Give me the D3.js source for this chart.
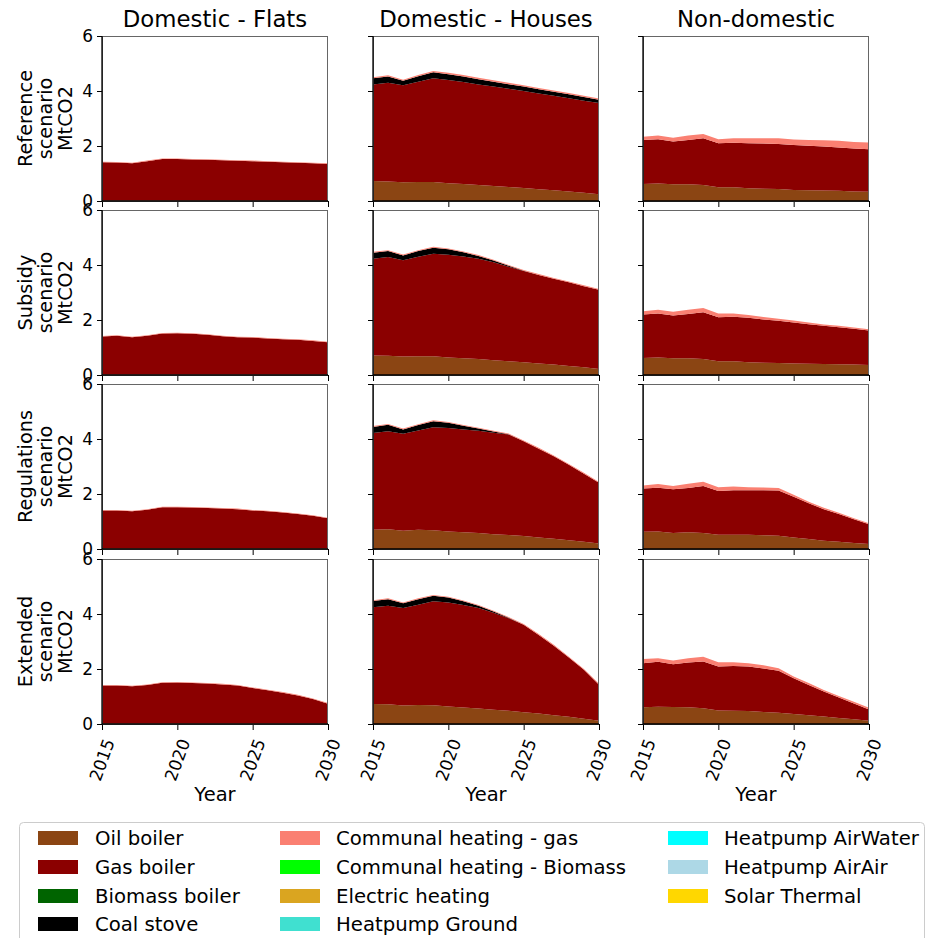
<!DOCTYPE html>
<html><head><meta charset="utf-8">
<script src="https://cdn.jsdelivr.net/npm/d3@7"></script>
<style>body{margin:0;background:#fff} text{font-family:"DejaVu Sans",sans-serif;fill:#000}</style>
</head><body><svg id="c" width="930" height="938"></svg>
<script>
// ---------------- DATA ----------------
const years = [2015,2016,2017,2018,2019,2020,2021,2022,2023,2024,2025,2026,2027,2028,2029,2030];
const sectors = ["Domestic - Flats","Domestic - Houses","Non-domestic"];
const scenarios = ["Reference","Subsidy","Regulations","Extended"];
const technologies = ["Oil boiler","Gas boiler","Biomass boiler","Coal stove","Communal heating - gas","Communal heating - Biomass","Electric heating","Heatpump Ground","Heatpump AirWater","Heatpump AirAir","Solar Thermal"];
const techColors = ["#8B4513","#8B0000","#006400","#000000","#FA8072","#00FF00","#DAA520","#40E0D0","#00FFFF","#ADD8E6","#FFD700"];
const yTicks = [0,2,4,6];
const xTicks = [2015,2020,2025,2030];

// Domestic - Flats
const flatsRefOil  = [0.02,0.02,0.02,0.02,0.02,0.02,0.02,0.02,0.02,0.02,0.02,0.02,0.02,0.02,0.02,0.02];
const flatsRefGas  = [1.39,1.38,1.35,1.43,1.51,1.51,1.49,1.48,1.46,1.44,1.43,1.41,1.39,1.37,1.35,1.33];
const flatsRefComm = [0.02,0.02,0.02,0.02,0.02,0.02,0.02,0.02,0.02,0.02,0.02,0.02,0.02,0.02,0.02,0.02];
const flatsSubOil  = [0.02,0.02,0.02,0.02,0.02,0.02,0.02,0.02,0.02,0.02,0.02,0.02,0.02,0.02,0.02,0.02];
const flatsSubGas  = [1.38,1.41,1.35,1.41,1.49,1.50,1.48,1.44,1.39,1.35,1.34,1.31,1.28,1.26,1.22,1.17];
const flatsSubComm = [0.02,0.02,0.02,0.02,0.02,0.02,0.02,0.02,0.02,0.02,0.02,0.02,0.02,0.02,0.02,0.02];
const flatsRegOil  = [0.02,0.02,0.02,0.02,0.02,0.02,0.02,0.02,0.02,0.02,0.02,0.02,0.02,0.02,0.02,0.02];
const flatsRegGas  = [1.38,1.38,1.35,1.41,1.50,1.50,1.49,1.47,1.45,1.43,1.38,1.35,1.31,1.25,1.19,1.10];
const flatsRegComm = [0.02,0.02,0.02,0.02,0.02,0.02,0.02,0.02,0.02,0.02,0.02,0.02,0.02,0.02,0.02,0.02];
const flatsExtOil  = [0.02,0.02,0.02,0.02,0.02,0.02,0.02,0.02,0.02,0.02,0.02,0.02,0.02,0.02,0.02,0.02];
const flatsExtGas  = [1.38,1.38,1.35,1.40,1.48,1.49,1.47,1.45,1.42,1.38,1.29,1.21,1.12,1.02,0.89,0.72];
const flatsExtComm = [0.02,0.02,0.02,0.02,0.02,0.02,0.02,0.02,0.02,0.02,0.02,0.02,0.02,0.02,0.02,0.02];

// Domestic - Houses
const housesRefOil  = [0.73,0.71,0.68,0.69,0.69,0.65,0.62,0.58,0.55,0.51,0.47,0.43,0.39,0.35,0.30,0.25];
const housesRefGas  = [3.51,3.59,3.53,3.65,3.77,3.75,3.71,3.66,3.61,3.57,3.53,3.48,3.44,3.39,3.35,3.31];
const housesRefCoal = [0.22,0.23,0.16,0.20,0.22,0.21,0.20,0.19,0.18,0.17,0.16,0.15,0.14,0.14,0.13,0.12];
const housesRefComm = [0.04,0.04,0.04,0.04,0.05,0.05,0.05,0.05,0.05,0.05,0.05,0.05,0.05,0.05,0.05,0.05];
const housesSubOil  = [0.71,0.70,0.67,0.68,0.68,0.64,0.61,0.58,0.54,0.50,0.46,0.42,0.38,0.33,0.28,0.22];
const housesSubGas  = [3.52,3.59,3.50,3.62,3.73,3.73,3.70,3.65,3.56,3.44,3.32,3.22,3.12,3.04,2.95,2.88];
const housesSubCoal = [0.22,0.22,0.18,0.21,0.22,0.20,0.15,0.10,0.06,0.03,0.01,0,0,0,0,0];
const housesSubComm = [0.03,0.03,0.03,0.03,0.03,0.03,0.03,0.03,0.03,0.03,0.03,0.03,0.03,0.03,0.03,0.03];
const housesRegOil  = [0.70,0.72,0.66,0.70,0.68,0.64,0.61,0.58,0.54,0.51,0.47,0.42,0.37,0.32,0.26,0.20];
const housesRegGas  = [3.52,3.56,3.53,3.61,3.75,3.76,3.74,3.72,3.69,3.65,3.45,3.23,3.00,2.74,2.48,2.21];
const housesRegCoal = [0.22,0.24,0.16,0.20,0.22,0.19,0.13,0.08,0.04,0.01,0,0,0,0,0,0];
const housesRegComm = [0.03,0.03,0.03,0.03,0.03,0.03,0.03,0.03,0.03,0.03,0.03,0.03,0.03,0.03,0.03,0.03];
const housesExtOil  = [0.73,0.72,0.67,0.69,0.68,0.64,0.60,0.56,0.52,0.48,0.43,0.38,0.32,0.26,0.19,0.12];
const housesExtGas  = [3.52,3.58,3.55,3.65,3.78,3.78,3.73,3.66,3.53,3.37,3.18,2.86,2.53,2.16,1.78,1.31];
const housesExtCoal = [0.22,0.24,0.17,0.20,0.20,0.18,0.13,0.08,0.04,0.01,0,0,0,0,0,0];
const housesExtComm = [0.03,0.03,0.03,0.03,0.03,0.03,0.03,0.03,0.03,0.03,0.03,0.03,0.03,0.03,0.03,0.03];

// Non-domestic
const nondomRefOil  = [0.62,0.64,0.61,0.61,0.58,0.50,0.50,0.46,0.45,0.44,0.40,0.39,0.38,0.37,0.35,0.34];
const nondomRefGas  = [1.60,1.61,1.55,1.61,1.70,1.60,1.62,1.64,1.64,1.63,1.64,1.62,1.60,1.58,1.56,1.54];
const nondomRefComm = [0.12,0.13,0.14,0.16,0.16,0.15,0.16,0.18,0.19,0.21,0.20,0.21,0.23,0.24,0.24,0.25];
const nondomSubOil  = [0.62,0.64,0.61,0.61,0.58,0.50,0.50,0.46,0.45,0.44,0.42,0.41,0.40,0.39,0.38,0.36];
const nondomSubGas  = [1.58,1.60,1.55,1.61,1.70,1.60,1.62,1.62,1.57,1.53,1.49,1.44,1.39,1.35,1.30,1.26];
const nondomSubComm = [0.12,0.13,0.14,0.15,0.16,0.14,0.12,0.10,0.09,0.08,0.07,0.06,0.05,0.05,0.05,0.04];
const nondomRegOil  = [0.63,0.64,0.58,0.61,0.58,0.52,0.52,0.52,0.50,0.48,0.42,0.36,0.30,0.26,0.22,0.18];
const nondomRegGas  = [1.57,1.59,1.59,1.61,1.71,1.59,1.62,1.62,1.64,1.65,1.48,1.30,1.15,1.01,0.86,0.72];
const nondomRegComm = [0.11,0.13,0.12,0.15,0.16,0.14,0.13,0.11,0.10,0.09,0.07,0.06,0.05,0.05,0.04,0.04];
const nondomExtOil  = [0.61,0.63,0.62,0.61,0.57,0.49,0.48,0.47,0.44,0.41,0.36,0.32,0.27,0.22,0.17,0.12];
const nondomExtGas  = [1.60,1.63,1.55,1.63,1.70,1.60,1.63,1.62,1.58,1.53,1.30,1.10,0.91,0.74,0.58,0.41];
const nondomExtComm = [0.15,0.13,0.14,0.15,0.18,0.16,0.14,0.12,0.12,0.09,0.07,0.07,0.06,0.06,0.06,0.06];

// panel lookup (sector index x scenario index) -> series present (others are zero)
const panelSeries = [
  [ {"Oil boiler":flatsRefOil,"Gas boiler":flatsRefGas,"Communal heating - gas":flatsRefComm},
    {"Oil boiler":flatsSubOil,"Gas boiler":flatsSubGas,"Communal heating - gas":flatsSubComm},
    {"Oil boiler":flatsRegOil,"Gas boiler":flatsRegGas,"Communal heating - gas":flatsRegComm},
    {"Oil boiler":flatsExtOil,"Gas boiler":flatsExtGas,"Communal heating - gas":flatsExtComm} ],
  [ {"Oil boiler":housesRefOil,"Gas boiler":housesRefGas,"Coal stove":housesRefCoal,"Communal heating - gas":housesRefComm},
    {"Oil boiler":housesSubOil,"Gas boiler":housesSubGas,"Coal stove":housesSubCoal,"Communal heating - gas":housesSubComm},
    {"Oil boiler":housesRegOil,"Gas boiler":housesRegGas,"Coal stove":housesRegCoal,"Communal heating - gas":housesRegComm},
    {"Oil boiler":housesExtOil,"Gas boiler":housesExtGas,"Coal stove":housesExtCoal,"Communal heating - gas":housesExtComm} ],
  [ {"Oil boiler":nondomRefOil,"Gas boiler":nondomRefGas,"Communal heating - gas":nondomRefComm},
    {"Oil boiler":nondomSubOil,"Gas boiler":nondomSubGas,"Communal heating - gas":nondomSubComm},
    {"Oil boiler":nondomRegOil,"Gas boiler":nondomRegGas,"Communal heating - gas":nondomRegComm},
    {"Oil boiler":nondomExtOil,"Gas boiler":nondomExtGas,"Communal heating - gas":nondomExtComm} ]
];

// ---------------- LAYOUT ----------------
const svg = d3.select("#c");
const colX = [102, 373, 643];
const rowY = [36, 210, 384, 559];
const panelW = 226, panelH = 165;
const color = d3.scaleOrdinal().domain(technologies).range(techColors);

const x = d3.scaleLinear().domain([2015, 2030]).range([0, panelW]);
const y = d3.scaleLinear().domain([0, 6]).range([panelH, 0]);
const stack = d3.stack().keys(technologies);
const area = d3.area().x(d => x(d.data.year)).y0(d => y(d[0])).y1(d => y(d[1]));

sectors.forEach((sector, c) => {
  scenarios.forEach((scen, r) => {
    const series = panelSeries[c][r];
    const table = years.map((yr, i) => {
      const row = {year: yr};
      technologies.forEach(t => { row[t] = series[t] ? series[t][i] : 0; });
      return row;
    });
    const g = svg.append("g").attr("transform", `translate(${colX[c]},${rowY[r]})`);
    g.append("rect").attr("width", panelW).attr("height", panelH).attr("fill", "#fff");
    g.selectAll("path.layer").data(stack(table)).join("path")
      .attr("class", "layer")
      .attr("fill", d => color(d.key))
      .attr("d", area);

    // axes
    const yAxis = d3.axisLeft(y).tickValues(yTicks).tickSize(5).tickPadding(4)
      .tickFormat(c === 0 ? d3.format("d") : () => "");
    const xAxis = d3.axisBottom(x).tickValues(xTicks).tickSize(6)
      .tickFormat(() => "");
    const ya = g.append("g").call(yAxis);
    const xa = g.append("g").attr("transform", `translate(0,${panelH})`).call(xAxis);
    [ya, xa].forEach(a => {
      a.select(".domain").remove();
      a.selectAll("line").attr("stroke", "#000").attr("stroke-width", 1);
    });
    ya.selectAll("text").attr("font-size", 17).attr("font-family", "DejaVu Sans").attr("fill", "#000");

    // spines
    g.append("rect").attr("x", 0.5).attr("y", 0.5).attr("width", panelW - 1).attr("height", panelH)
      .attr("fill", "none").attr("stroke", "#666").attr("stroke-width", 1);
    g.append("line").attr("x1", 0).attr("x2", 0).attr("y1", 0).attr("y2", panelH + 0.5)
      .attr("stroke", "#000").attr("stroke-width", 1.3);
    g.append("line").attr("x1", 0).attr("x2", panelW).attr("y1", panelH).attr("y2", panelH)
      .attr("stroke", "#000").attr("stroke-width", 1.3);

    if (r === scenarios.length - 1) {
      xTicks.forEach(t => {
        g.append("text")
          .attr("transform", `translate(${x(t)},${panelH + 36}) rotate(-70)`)
          .attr("text-anchor", "middle").attr("dy", "0.35em")
          .attr("font-size", 17).text(t);
      });
      g.append("text").attr("x", panelW / 2).attr("y", panelH + 77)
        .attr("text-anchor", "middle").attr("font-size", 19.5).text("Year");
    }
    if (r === 0) {
      g.append("text").attr("x", panelW / 2).attr("y", -9)
        .attr("text-anchor", "middle").attr("font-size", 22.8).text(sector);
    }
    if (c === 0) {
      const lines = [scen, "scenario", "MtCO2"];
      const bx = [-70, -50, -30];
      lines.forEach((ln, k) => {
        g.append("text")
          .attr("transform", `translate(${bx[k]},${panelH / 2}) rotate(-90)`)
          .attr("text-anchor", "middle").attr("font-size", 19.3).text(ln);
      });
    }
  });
});

// ---------------- LEGEND ----------------
const leg = svg.append("g");
leg.append("rect").attr("x", 19.5).attr("y", 822.5).attr("width", 905).attr("height", 140)
  .attr("rx", 4).attr("fill", "#fff").attr("stroke", "#ccc").attr("stroke-width", 1);
const legColSw = [38, 280, 668];
const legColTx = [95, 336, 724];
const legRowY = [838, 867, 896, 924];
technologies.forEach((t, i) => {
  const col = Math.floor(i / 4), row = i % 4;
  leg.append("rect").attr("x", legColSw[col]).attr("y", legRowY[row] - 7)
    .attr("width", 40).attr("height", 14).attr("fill", color(t));
  leg.append("text").attr("x", legColTx[col]).attr("y", legRowY[row]).attr("dy", "0.35em")
    .attr("font-size", 19.7).text(t);
});
</script></body></html>
